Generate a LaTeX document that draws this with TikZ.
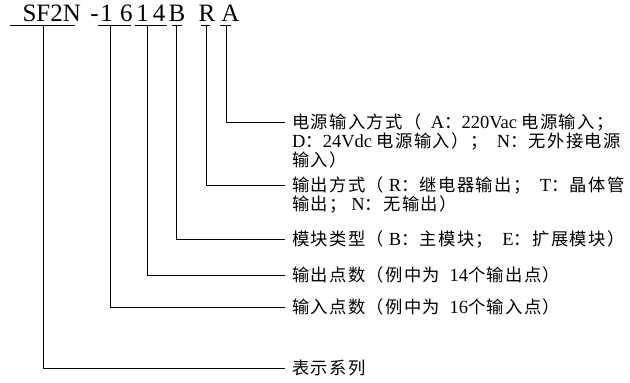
\documentclass[tikz,border=0pt]{standalone}
\usepackage{fontspec}
\setmainfont{Liberation Serif}
\newfontfamily\cjkfont[LetterSpace=8]{Noto Sans CJK SC}
\newcommand\zh[1]{{\cjkfont\fontsize{17.3}{18}\selectfont #1}}
\begin{document}
\begin{tikzpicture}[x=1pt,y=-1pt,
  code/.style={anchor=base,inner sep=0pt,font=\fontsize{25}{25}\selectfont},
  desc/.style={anchor=west,inner xsep=7pt,inner ysep=0pt,text height=13.2pt,text depth=0pt,font=\fontsize{18.5}{18}\selectfont},
  lead/.style={line width=0.9pt},
  uline/.style={line width=0.9pt}]
\useasboundingbox (0,0) rectangle (630,383);
% code characters
\node[code] (sf) at (51.7,21) {SF2N};
\node[code] (dash) at (94.5,21) {-};
\node[code] (i1) at (106.7,21) {1};
\node[code] (i6) at (126.3,21) {6};
\node[code] (o1) at (142.5,21) {1};
\node[code] (o4) at (159.2,21) {4};
\node[code] (cb) at (177,21) {B};
\node[code] (cr) at (207,21) {R};
\node[code] (ca) at (230.5,21) {A};
% underlines
\draw[uline] (10,25) -- (75,25);
\draw[uline] (98,25) -- (131,25);
\draw[uline] (135,25) -- (167,25);
\draw[uline] (172,25) -- (182,25);
\draw[uline] (201,25) -- (210,25);
\draw[uline] (220,25) -- (231,25);
\coordinate (uSF) at (43.3,25);
\coordinate (u16) at (110,25);
\coordinate (u14) at (147.7,25);
\coordinate (uB) at (176.7,25);
\coordinate (uR) at (206.7,25);
\coordinate (uA) at (226.7,25);
% descriptions
\node[desc] (tA1) at (285,122) {\zh{电源输入方式（}\ \ A\zh{：}220Vac \zh{电源输入；}};
\node[desc] (tA2) at (285,141) {D\zh{：}24Vdc \zh{电源输入）；}\ \ N\zh{：无外接电源}};
\node[desc] (tA3) at (285,160) {\zh{输入）}};
\node[desc] (tR1) at (285,185) {\zh{输出方式（}\ R\zh{：继电器输出；}\ \ T\zh{：晶体管}};
\node[desc] (tR2) at (285,204) {\zh{输出；} N\zh{：无输出）}};
\node[desc] (tB) at (285,239) {\zh{模块类型（}\ B\zh{：主模块；}\ \ E\zh{：扩展模块）}};
\node[desc] (t14) at (285,275) {\zh{输出点数（例中为}\ \ 14\zh{个输出点）}};
\node[desc] (t16) at (285,307) {\zh{输入点数（例中为}\ \ 16\zh{个输入点）}};
\node[desc] (tSF) at (285,368) {\zh{表示系列}};
% connectors
\draw[lead] (uA) |- (tA1.west);
\draw[lead] (uR) |- (tR1.west);
\draw[lead] (uB) |- (tB.west);
\draw[lead] (u14) |- (t14.west);
\draw[lead] (u16) |- (t16.west);
\draw[lead] (uSF) |- (tSF.west);
\end{tikzpicture}
\end{document}
